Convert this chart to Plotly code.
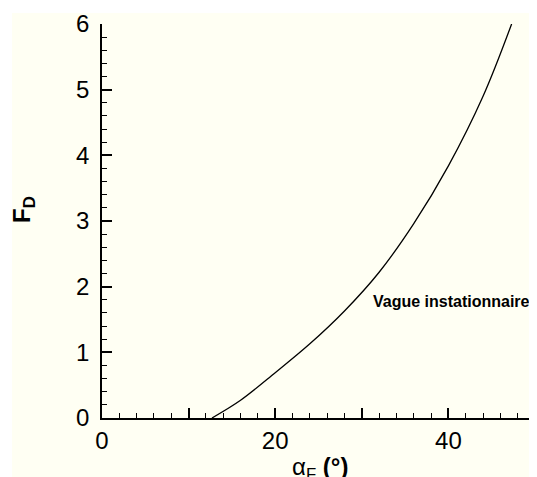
import plotly.graph_objects as go

# Data
alpha_deg = [12.7, 16.0, 20.0, 24.0, 28.0, 32.0, 36.0, 40.0, 44.0, 47.3]
froude_d = [0.0, 0.27, 0.69, 1.13, 1.63, 2.22, 2.96, 3.84, 4.90, 6.0]

x_tickvals = [0, 10, 20, 30, 40, 50]
x_ticktext = ["0", "", "20", "", "40", ""]
y_tickvals = [0, 1, 2, 3, 4, 5, 6]
y_ticktext = ["0", "1", "2", "3", "4", "5", "6"]

series_label = "Vague instationnaire"

# page body adds an 8px offset; compensate so the photo matches 537x477
OFF = 8
W, H = 537 - OFF, 477 - OFF
# target pixel positions in the final photo
AX_LEFT, AX_RIGHT, AX_TOP, AX_BOTTOM = 102, 535, 24, 418
ML = AX_LEFT - OFF
MT = AX_TOP - OFF
MR = W - (AX_RIGHT - OFF)
MB = H - (AX_BOTTOM - OFF)
PW, PH = W - ML - MR, H - MT - MB
CREAM = "#FFFFF3"
FONT = "Liberation Sans, Arial, sans-serif"

def px_x(p):
    return (p - AX_LEFT) / PW

def px_y(p):
    return (AX_BOTTOM - p) / PH

fig = go.Figure()
fig.add_trace(go.Scatter(
    x=alpha_deg, y=froude_d, mode="lines",
    line=dict(color="black", width=1.3, shape="spline", smoothing=1.0),
    showlegend=False, hoverinfo="skip",
))

axis_common = dict(
    showgrid=False, zeroline=False, showline=True, linecolor="black", linewidth=1.5,
    ticks="inside", ticklen=10, tickwidth=1.5, tickcolor="black",
    tickfont=dict(family=FONT, size=24, color="black"),
    mirror=False,
)
fig.update_xaxes(range=[0, 50], tickmode="array", tickvals=x_tickvals, ticktext=x_ticktext,
                 minor=dict(ticks="inside", ticklen=5, tickwidth=1, tickcolor="black", dtick=2, tick0=0),
                 **axis_common)
fig.update_yaxes(range=[0, 6], tickmode="array", tickvals=y_tickvals, ticktext=y_ticktext,
                 ticklabelstandoff=6,
                 minor=dict(ticks="inside", ticklen=5, tickwidth=1, tickcolor="black", dtick=0.2, tick0=0),
                 **axis_common)

fig.add_shape(type="rect", xref="paper", yref="paper", layer="below",
              x0=px_x(12), x1=px_x(560), y0=px_y(500), y1=px_y(13),
              fillcolor=CREAM, line=dict(width=0))

fig.add_annotation(text="<b>F</b><sub><b>D</b></sub>", textangle=-90,
                   xref="paper", yref="paper", x=px_x(23), y=px_y(210),
                   xanchor="center", yanchor="middle", showarrow=False,
                   font=dict(family=FONT, size=24, color="black"))
fig.add_annotation(text="α<sub>F</sub> <b>(°)</b>",
                   xref="paper", yref="paper", x=px_x(320), y=px_y(451),
                   xanchor="center", yanchor="top", showarrow=False,
                   font=dict(family=FONT, size=24, color="black"))
fig.add_annotation(text="<b>" + series_label + "</b>",
                   xref="paper", yref="paper", x=px_x(371), y=px_y(301),
                   xanchor="left", yanchor="middle", showarrow=False,
                   font=dict(family=FONT, size=16, color="black"))

fig.update_layout(
    width=W, height=H,
    margin=dict(l=ML, r=MR, t=MT, b=MB, pad=0),
    paper_bgcolor="white", plot_bgcolor="rgba(0,0,0,0)",
    showlegend=False,
)

fig.write_html("out.html")
